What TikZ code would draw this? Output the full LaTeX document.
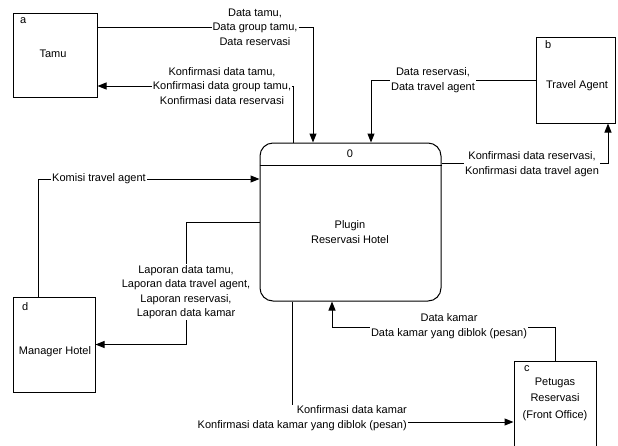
\documentclass[tikz,border=0pt]{standalone}
\usepackage{fontspec}
\setmainfont{Liberation Sans}
\usetikzlibrary{arrows.meta,backgrounds}
\begin{document}
\begin{tikzpicture}[x=1pt,y=-1pt,
  every node/.style={font=\fontsize{11}{14.5}\selectfont},
  entity/.style={draw,line width=1pt,rectangle,inner sep=0pt},
  lbl/.style={fill=white,align=center,inner sep=1pt},
  txt/.style={inner sep=0pt},
  conn/.style={line width=1pt},
  flow/.style={conn,-{Triangle[length=9pt,width=7pt]}}]
\useasboundingbox (0,0) rectangle (618,445);

% external entities
\node[entity,minimum width=84pt,minimum height=84pt] (tamu) at (55,55) {};
\node[txt,anchor=west] (tamuid) at (20,21) {a};
\node[txt,anchor=base] (tamut) at (53,57) {Tamu};

\node[entity,minimum width=79pt,minimum height=86pt] (ta) at (575.5,80) {};
\node[txt,anchor=west] (taid) at (545,45) {b};
\node[txt,anchor=base] (tat) at (577,88) {Travel Agent};

\node[entity,minimum width=82pt,minimum height=95pt] (mgr) at (54,344.5) {};
\node[txt,anchor=west] (mgrid) at (22,307) {d};
\node[txt,anchor=base] (mgrt) at (55,354) {Manager Hotel};

\node[entity,minimum width=82pt,minimum height=109pt] (pet) at (555,415.5) {};
\node[txt,anchor=west] (petid) at (524,369) {c};
\node[txt,align=center,font=\fontsize{11}{16.5}\selectfont] (pett) at (555,399) {Petugas\\Reservasi\\(Front Office)};

% process
\node[draw,line width=1pt,rounded corners=13pt,minimum width=181pt,minimum height=158pt,inner sep=0pt] (proc) at (350.5,222) {};
\draw[conn] (proc.west |- 0,165) -- (proc.east |- 0,165);
\node[txt,anchor=base] (procid) at (350,157) {0};
\node[txt,align=center] (proct) at (350,232) {Plugin\\Reservasi Hotel};

% labels
\node[lbl] (l1) at (255,27) {Data tamu,\\Data group tamu,\\Data reservasi};
\node[lbl] (l2) at (222,86) {Konfirmasi data tamu,\\Konfirmasi data group tamu,\\Konfirmasi data reservasi};
\node[lbl] (l3) at (433,80) {Data reservasi,\\Data travel agent};
\node[lbl] (l4) at (532,164) {Konfirmasi data reservasi,\\Konfirmasi data travel agen};
\node[lbl] (l5) at (99,179) {Komisi travel agent};
\node[lbl] (l6) at (186,292) {Laporan data tamu,\\Laporan data travel agent,\\Laporan reservasi,\\Laporan data kamar};
\node[lbl,align=right,anchor=east] (l7) at (408,418) {Konfirmasi data kamar\\Konfirmasi data kamar yang diblok (pesan)};
\node[lbl] (l8) at (449,326) {Data kamar\\Data kamar yang diblok (pesan)};

% bend points
\coordinate (c1) at (313,27);
\coordinate (c2) at (293,143);
\coordinate (c3) at (371,80);
\coordinate (c4) at (608,163);
\coordinate (c5) at (38,179);
\coordinate (c6) at (186,222);
\coordinate (c7) at (292,422);
\coordinate (c8) at (332,327);

\begin{scope}[on background layer]
\draw[flow] (tamu.east |- c1) -- (c1) -- (c1 |- proc.north);
\draw[flow] (c2) |- (tamu.east |- l2);
\draw[flow] (ta.west) -| (c3 |- proc.north);
\draw[flow] (proc.east |- c4) -| (c4 |- ta.south);
\draw[flow] (c5 |- mgr.north) |- (proc.west |- c5);
\draw[flow] (proc.west) -| (c6) |- (mgr.east);
\draw[flow] (c7 |- proc.south) |- (pet.west |- c7);
\draw[flow] (pet.north) |- (c8) -- (c8 |- proc.south);
\end{scope}
\end{tikzpicture}
\end{document}
